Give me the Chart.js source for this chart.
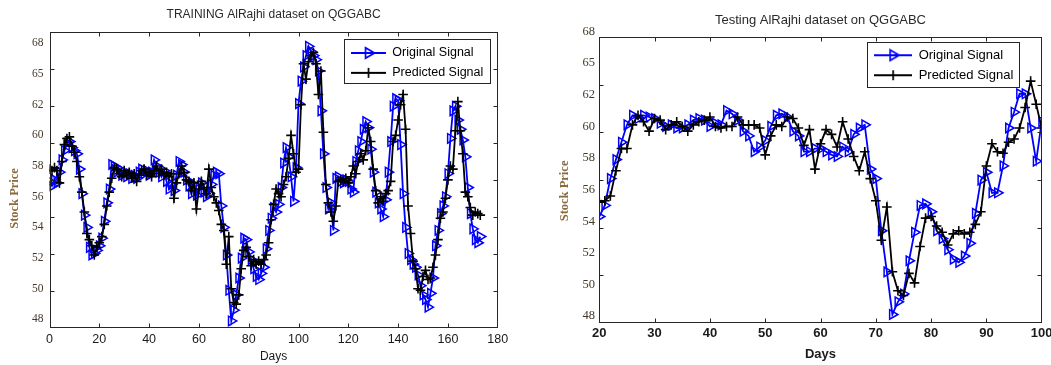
<!DOCTYPE html>
<html>
<head>
<meta charset="utf-8">
<script src="https://cdn.jsdelivr.net/npm/chart.js@4.4.1/dist/chart.umd.min.js"></script>
<style>
html,body{margin:0;padding:0;background:#fff;overflow:hidden;width:1051px;height:365px;}
canvas{position:absolute;top:0;}
#c1{left:0;}
#c2{left:530px;}
</style>
</head>
<body>
<canvas id="c1" width="530" height="365"></canvas>
<canvas id="c2" width="521" height="365"></canvas>
<script>
// ---------------- data ----------------
const yTickValues = [48, 50, 52, 54, 56, 58, 60, 62, 65, 68];
const trainXTicks = [0, 20, 40, 60, 80, 100, 120, 140, 160, 180];
const testXTicks = [20, 30, 40, 50, 60, 70, 80, 90, 100];
const seriesNames = ['Original Signal', 'Predicted Signal'];
const chartTitles = ['TRAINING AlRajhi dataset on QGGABC', 'Testing AlRajhi dataset on QGGABC'];
const xTitle = 'Days';
const yTitle = 'Stock Price';

const trainStartDay = 0;
const trainOriginal = [
  57.0, 56.7, 57.1, 56.9, 57.6, 58.4, 59.0, 59.5, 59.6, 59.2,
  59.0, 58.8, 57.8, 56.2, 54.8, 54.0, 52.7, 52.2, 52.3, 52.5,
  52.8, 53.3, 54.4, 55.6, 56.5, 58.1, 58.0, 57.6, 57.8, 57.4,
  57.6, 57.3, 57.5, 57.2, 57.4, 57.2, 57.6, 57.8, 57.5, 57.7,
  57.4, 57.6, 58.4, 58.0, 57.6, 57.3, 57.7, 57.0, 56.5, 56.8,
  56.4, 57.4, 58.3, 58.1, 57.6, 57.1, 56.7, 56.2, 56.8, 56.1,
  56.6, 56.9, 56.3, 56.0, 56.2, 56.8, 57.4, 57.6, 57.5, 55.4,
  54.0, 52.2, 49.9, 47.9, 48.6, 49.6, 50.7, 52.0, 53.3, 53.2,
  52.4, 51.9, 51.3, 50.8, 50.6, 51.0, 51.4, 52.6, 53.8, 54.6,
  55.3, 55.0, 55.5, 56.6, 58.2, 59.2, 58.6, 57.3, 55.7, 57.9,
  62.1, 64.3, 65.7, 66.8, 67.7, 67.2, 66.8, 66.4, 65.3, 61.6,
  58.8, 56.6, 55.2, 55.6, 53.8, 57.2, 57.3, 57.0, 56.9, 57.1,
  57.0, 56.5, 56.3, 58.3, 59.0, 59.6, 60.4, 60.9, 60.5, 59.1,
  57.6, 56.3, 55.6, 55.2, 54.7, 55.8, 57.6, 59.6, 61.9, 62.6,
  62.4, 59.4, 56.2, 54.0, 52.3, 51.9, 51.6, 51.4, 50.9, 50.2,
  49.6, 49.3, 48.8, 49.7, 50.7, 52.8, 53.8, 54.9, 55.4, 56.0,
  57.5, 59.8, 61.6, 61.9, 61.0, 60.4, 59.7, 58.6, 56.6, 54.9,
  53.9, 53.2, 53.0, 53.4
];
const trainPredicted = [
  57.8, 57.7, 57.9, 57.7, 56.9, 58.3, 59.4, 59.8, 59.9, 59.3,
  58.9, 58.3, 57.3, 56.3, 55.0, 53.6, 53.2, 52.8, 52.2, 52.7,
  53.0, 53.4, 54.2, 55.4, 56.3, 57.2, 57.9, 57.8, 57.5, 57.3,
  57.7, 57.4, 57.6, 57.2, 57.5, 57.0, 57.4, 57.7, 57.8, 57.4,
  57.6, 57.3, 57.7, 58.0, 57.5, 57.8, 57.4, 57.6, 57.3, 57.5,
  55.9, 56.9, 57.5, 58.0, 57.6, 57.1, 57.0, 56.4, 56.9, 55.2,
  56.5, 57.0, 56.6, 56.2, 57.8, 56.6, 56.0, 55.6, 55.1, 54.2,
  53.8, 51.6, 53.4, 50.0, 49.1, 49.0, 49.6, 51.3, 52.5, 52.7,
  52.1, 51.5, 51.9, 51.6, 51.8, 51.6, 51.9, 52.2, 53.0, 54.5,
  55.5, 56.5, 56.2, 56.0, 56.8, 57.3, 58.5, 60.0, 58.8, 57.6,
  57.8, 62.0, 66.0, 64.5, 66.2, 66.8, 67.1, 66.0, 63.0, 65.3,
  60.2, 56.8, 55.6, 55.0, 54.4, 55.4, 57.0, 57.1, 57.0, 57.2,
  56.9, 57.3, 58.0, 57.5, 58.3, 58.8, 58.4, 59.0, 60.5, 59.6,
  57.8, 56.4, 55.6, 56.0, 55.7, 56.2, 56.4, 57.0, 59.6, 60.0,
  61.0, 62.0, 63.0, 60.4, 55.4, 53.6, 51.8, 51.3, 50.0, 49.9,
  50.8, 51.2, 50.6, 50.7, 51.4, 52.2, 53.2, 54.6, 55.0, 55.9,
  57.1, 58.0, 57.8, 60.3, 62.3, 60.3, 58.8, 56.3, 56.0, 55.3,
  54.8, 55.0, 54.9, 54.8
];

const testStartDay = 20;
const testOriginal = [
  54.3, 55.0, 56.7, 57.9, 59.0, 60.1, 60.7, 60.5, 60.7, 60.6,
  60.5, 60.2, 60.0, 60.1, 59.9, 59.9, 60.1, 60.4, 60.5, 60.4,
  60.0, 60.2, 60.1, 61.0, 60.8, 60.4, 59.7, 59.4, 58.4, 58.7,
  59.1, 60.0, 60.7, 60.8, 60.6, 59.7, 59.4, 58.4, 58.4, 58.6,
  58.6, 58.4, 58.2, 58.1, 58.7, 58.4, 59.5, 59.9, 60.1, 57.3,
  56.7, 53.4, 50.8, 48.1, 48.9, 49.4, 51.5, 53.3, 55.0, 55.1,
  54.6, 53.4, 52.9, 52.2, 51.6, 51.4, 51.8, 52.6, 54.5, 56.6,
  57.1, 55.8, 55.8, 57.5, 59.9, 60.9, 62.1, 62.1, 59.9, 57.8,
  60.3
];
const testPredicted = [
  55.2, 55.3, 55.6, 57.2, 58.6, 58.6, 60.1, 60.7, 60.3, 59.7,
  60.5, 60.4, 59.8, 60.1, 60.3, 60.0, 59.7, 60.1, 60.3, 60.4,
  60.6, 60.0, 59.9, 60.0, 60.0, 60.6, 60.1, 60.1, 60.1, 59.9,
  58.2, 59.4, 60.1, 60.0, 60.6, 60.5, 59.9, 58.8, 59.8, 57.3,
  58.9, 59.8, 59.5, 58.7, 60.3, 59.2, 58.1, 57.2, 58.4, 56.7,
  55.3, 52.8, 54.9, 50.8, 49.6, 49.3, 50.7, 50.1, 52.4, 54.2,
  54.3, 53.7, 53.3, 52.5, 53.2, 53.4, 53.2, 53.3, 53.8, 54.6,
  57.5, 58.9, 58.4, 58.3, 59.0, 59.2, 59.9, 61.2, 63.3, 61.4,
  59.9
];

// ---------------- scale: evenly spaced tick labels (48..62 by 2, then 65, 68) ----------------
function toIdx(v) {
  const t = yTickValues, n = t.length;
  if (v <= t[0]) return (v - t[0]) / (t[1] - t[0]);
  for (let i = 1; i < n; i++) if (v <= t[i]) return i - 1 + (v - t[i - 1]) / (t[i] - t[i - 1]);
  return n - 1 + (v - t[n - 1]) / (t[n - 1] - t[n - 2]);
}
function fromIdx(k) {
  const t = yTickValues, n = t.length;
  if (k <= 0) return t[0] + k * (t[1] - t[0]);
  if (k >= n - 1) return t[n - 1] + (k - n + 1) * (t[n - 1] - t[n - 2]);
  const i = Math.floor(k);
  return t[i] + (k - i) * (t[i + 1] - t[i]);
}
class StepLinearScale extends Chart.LinearScale {
  static id = 'stepLinear';
  getPixelForValue(v) {
    return (v === null || v === undefined || isNaN(v)) ? NaN : super.getPixelForValue(toIdx(v));
  }
  getValueForPixel(p) { return fromIdx(super.getValueForPixel(p)); }
}
Chart.register(StepLinearScale);

const BLUE = '#0000ff';
const SANS = '"Liberation Sans", Arial, Helvetica, sans-serif';
const SERIF = '"Liberation Serif", "Times New Roman", Times, serif';

function legendSymbol(kind, color, w) {
  const c = document.createElement('canvas');
  c.width = w; c.height = 14;
  const g = c.getContext('2d');
  g.strokeStyle = color; g.lineWidth = 2;
  g.beginPath(); g.moveTo(0, 7); g.lineTo(w, 7); g.stroke();
  const cx = w / 2, cy = 7;
  g.lineWidth = 1.7;
  g.beginPath();
  if (kind === 'triangle') {
    const r = 6;
    g.moveTo(cx + r, cy); g.lineTo(cx - r * 0.5, cy - r * 0.866); g.lineTo(cx - r * 0.5, cy + r * 0.866); g.closePath();
  } else {
    g.moveTo(cx - 5, cy); g.lineTo(cx + 5, cy); g.moveTo(cx, cy - 5); g.lineTo(cx, cy + 5);
  }
  g.stroke();
  return c;
}

const framePlugin = {
  id: 'matlabFrame',
  afterLayout(chart, args, o) {
    const lg = chart.legend;
    if (!lg || !lg.columnSizes || !lg.columnSizes.length) return;
    const ca = chart.chartArea;
    const pad = o.legendPadding;
    const w = pad + lg.columnSizes[0].width + o.legendInnerRight;
    const h = 2 * pad + 2 * o.legendFont + o.legendInnerBottom;
    lg.left = ca.right - o.legendRight - w;
    lg.right = lg.left + lg.width;
    lg.top = ca.top + o.legendTop;
    lg.bottom = lg.top + 400;
    lg.$frame = {x: lg.left, y: lg.top, w: w, h: h};
  },
  afterDraw(chart, args, o) {
    const ctx = chart.ctx, ca = chart.chartArea;
    ctx.save();
    ctx.strokeStyle = o.color; ctx.lineWidth = 1;
    const L = Math.round(ca.left) + 0.5, R = Math.round(ca.right) - 0.5;
    const T = Math.round(ca.top) + 0.5, B = Math.round(ca.bottom) - 0.5;
    ctx.strokeRect(L, T, R - L, B - T);
    ctx.beginPath();
    for (let k = 1; k < o.yDivisions; k++) {
      const y = Math.round(ca.top + (ca.bottom - ca.top) * k / o.yDivisions) + 0.5;
      ctx.moveTo(L, y); ctx.lineTo(L + o.tick, y);
      ctx.moveTo(R, y); ctx.lineTo(R - o.tick, y);
    }
    const xs = chart.scales.x;
    xs.ticks.forEach(t => {
      const x = Math.round(xs.getPixelForValue(t.value)) + 0.5;
      if (x > L + 1 && x < R - 1) {
        ctx.moveTo(x, B); ctx.lineTo(x, B - o.tick);
        ctx.moveTo(x, T); ctx.lineTo(x, T + o.tick);
      }
    });
    ctx.stroke();
    const f = chart.legend && chart.legend.$frame;
    if (f) {
      ctx.strokeStyle = o.legendBorder;
      ctx.strokeRect(Math.round(f.x) + 0.5, Math.round(f.y) + 0.5, Math.round(f.w), Math.round(f.h));
    }
    ctx.restore();
  }
};

function toPoints(start, arr) { return arr.map((v, i) => ({x: start + i, y: v})); }

function makeChart(id, p) {
  const symbols = [legendSymbol('triangle', BLUE, p.symbolWidth), legendSymbol('plus', '#000', p.symbolWidth)];
  return new Chart(document.getElementById(id), {
    type: 'line',
    data: {
      datasets: [
        {
          label: seriesNames[0], data: toPoints(p.start, p.original), order: 2,
          borderColor: BLUE, borderWidth: 1.8, tension: 0, fill: false,
          pointStyle: 'triangle', pointRotation: 90, pointRadius: 5.5,
          pointBorderColor: BLUE, pointBackgroundColor: 'rgba(0,0,0,0)', pointBorderWidth: 1.5
        },
        {
          label: seriesNames[1], data: toPoints(p.start, p.predicted), order: 1,
          borderColor: '#000', borderWidth: 1.8, tension: 0, fill: false,
          pointStyle: 'cross', pointRadius: 4.8,
          pointBorderColor: '#000', pointBackgroundColor: '#000', pointBorderWidth: 1.6
        }
      ]
    },
    options: {
      responsive: false, animation: false, events: [], devicePixelRatio: 1,
      layout: {padding: {left: 0, right: p.padRight, top: 0, bottom: 0}},
      scales: {
        x: {
          type: 'linear', position: 'bottom', min: p.xTicks[0], max: p.xTicks[p.xTicks.length - 1],
          afterBuildTicks: s => { s.ticks = p.xTicks.map(v => ({value: v})); },
          afterFit: s => { s.height = p.xAxisHeight; s.paddingLeft = 0; s.paddingRight = 0; },
          grid: {display: false, drawTicks: false}, border: {display: false},
          ticks: {autoSkip: false, maxRotation: 0, padding: p.xTickPad, color: '#1a1a1a',
                  font: {family: SANS, size: p.xTickSize, weight: p.xBold ? 'bold' : 'normal'},
                  callback: v => String(v)},
          title: {display: true, text: xTitle, color: '#1a1a1a',
                  font: {family: SANS, size: p.xTitleSize, weight: p.xBold ? 'bold' : 'normal'},
                  padding: {top: 0, bottom: p.xTitlePad}}
        },
        y: {
          type: 'stepLinear', position: 'left', min: p.yMin, max: p.yMax,
          afterBuildTicks: s => { s.ticks = yTickValues.map(v => ({value: v})); },
          afterFit: s => { s.width = p.yAxisWidth; s.paddingTop = 0; s.paddingBottom = 0; },
          grid: {display: false, drawTicks: false}, border: {display: false},
          ticks: {autoSkip: false, padding: p.yTickPad, color: '#45382a',
                  font: {family: SERIF, size: p.yTickSize}, callback: v => String(v)},
          title: {display: true, text: yTitle + ' '.repeat(p.yTitleShift), color: '#8a6a3e',
                  font: {family: SERIF, size: 12.5, weight: 'bold'},
                  padding: {top: p.yTitlePad, bottom: 0}}
        }
      },
      plugins: {
        title: {display: true, text: p.title, fullSize: false, color: '#2a2a2a',
                font: {family: SANS, size: p.titleSize, weight: 'normal'},
                padding: {top: p.titlePadTop, bottom: p.titlePadBottom}},
        legend: {
          display: true, position: 'chartArea', align: 'start',
          labels: {
            usePointStyle: true, pointStyleWidth: p.symbolWidth, padding: p.legendPadding,
            color: '#000', font: {family: SANS, size: p.legendFont},
            generateLabels: chart => chart.data.datasets.map((ds, i) => ({
              text: ds.label, fillStyle: 'rgba(0,0,0,0)', strokeStyle: 'rgba(0,0,0,0)', lineWidth: 0,
              pointStyle: symbols[i], hidden: false, datasetIndex: i, fontColor: '#000'
            }))
          }
        },
        tooltip: {enabled: false},
        matlabFrame: {
          color: '#262626', legendBorder: '#262626', tick: 4, yDivisions: p.yDivisions,
          legendPadding: p.legendPadding, legendFont: p.legendFont, legendInnerRight: 6, legendInnerBottom: 4.5,
          legendRight: p.legendRight, legendTop: p.legendTop
        }
      }
    },
    plugins: [framePlugin]
  });
}

makeChart('c1', {
  title: chartTitles[0], start: trainStartDay, original: trainOriginal, predicted: trainPredicted,
  xTicks: trainXTicks, padRight: 32.3, xAxisHeight: 37.3, xTickPad: 4, xTickSize: 12.5, xTitleSize: 12,
  xTitlePad: 0.8, xBold: false, yMin: -0.27, yMax: 9.38, yAxisWidth: 49.5, yTickPad: 6, yTickSize: 11.5,
  yTitleShift: 12, yTitlePad: 6.8, titleSize: 12, titlePadTop: 7.8, titlePadBottom: 9.5,
  symbolWidth: 35, legendPadding: 7.4, legendFont: 12.5, legendRight: 8.4, legendTop: 7.6, yDivisions: 8
});
makeChart('c2', {
  title: chartTitles[1], start: testStartDay, original: testOriginal, predicted: testPredicted,
  xTicks: testXTicks, padRight: 9.3, xAxisHeight: 42.3, xTickPad: 3, xTickSize: 13, xTitleSize: 13,
  xTitlePad: 2.5, xBold: true, yMin: -0.21, yMax: 8.82, yAxisWidth: 69.3, yTickPad: 4.3, yTickSize: 12.5,
  yTitleShift: 7, yTitlePad: 27.5, titleSize: 13, titlePadTop: 12.9, titlePadBottom: 8.8,
  symbolWidth: 38, legendPadding: 7.0, legendFont: 13, legendRight: 22.4, legendTop: 4.4, yDivisions: 6
});
</script>
</body>
</html>
